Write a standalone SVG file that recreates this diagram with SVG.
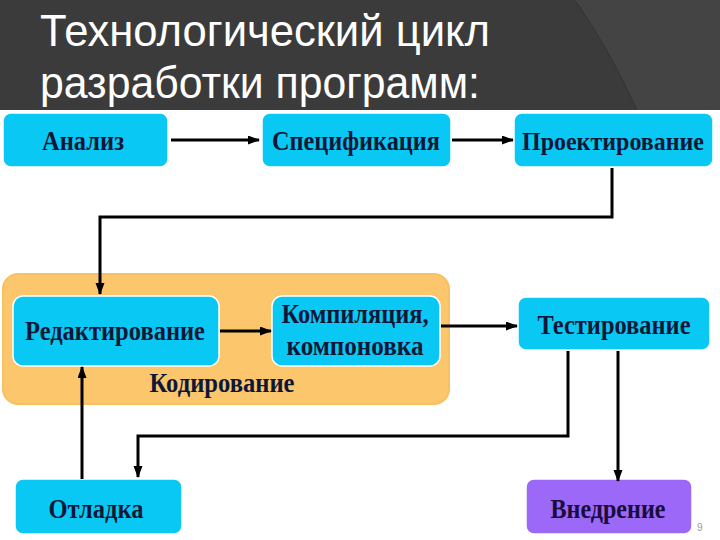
<svg xmlns="http://www.w3.org/2000/svg" width="720" height="540" viewBox="0 0 720 540">
  <style>
    .title { font-family: "Liberation Sans", Arial, sans-serif; font-size: 44px; fill: #ffffff; }
    .box { fill: #0ac8f4; stroke: #ffffff; stroke-width: 1.5; }
    .lbl { font-family: "Liberation Serif", "Times New Roman", serif; font-weight: bold; font-size: 27px; fill: #0d1838; text-anchor: middle; }
    .conn { fill: none; stroke: #000000; stroke-width: 3; }
  </style>
  <defs>
    <marker id="arr" markerUnits="userSpaceOnUse" markerWidth="12" markerHeight="10" refX="11" refY="4.5" orient="auto">
      <path d="M0,0 L12,4.5 L0,9 z" fill="#000000"/>
    </marker>
  </defs>
  <rect x="0" y="0" width="720" height="540" fill="#ffffff"/>
  <g id="header">
    <rect x="0" y="0" width="720" height="110" fill="#3b3b3b"/>
    <path d="M575,0 Q610,50 637,110 L720,110 L720,0 z" fill="#444444"/>
    <path d="M575,0 Q610,50 637,110" fill="none" stroke="#333333" stroke-width="1"/>
    <text class="title" x="40" y="46" textLength="450" lengthAdjust="spacingAndGlyphs">Технологический цикл</text>
    <text class="title" x="40" y="98" textLength="440" lengthAdjust="spacingAndGlyphs">разработки программ:</text>
  </g>
  <rect x="0" y="110" width="720" height="3" fill="#ffffff"/>

  <g id="coding">
    <rect x="3" y="274" width="446" height="130" rx="15" fill="#fcc66c" stroke="#f8c060" stroke-width="2"/>
    <text class="lbl" x="222" y="392" textLength="145" lengthAdjust="spacingAndGlyphs">Кодирование</text>
  </g>

  <g id="analysis">
    <rect class="box" x="3" y="113" width="165" height="54" rx="8"/>
    <text class="lbl" x="83" y="150" textLength="82" lengthAdjust="spacingAndGlyphs">Анализ</text>
  </g>
  <g id="specification">
    <rect class="box" x="262" y="113" width="189" height="54" rx="8"/>
    <text class="lbl" x="356" y="150" textLength="168" lengthAdjust="spacingAndGlyphs">Спецификация</text>
  </g>
  <g id="design">
    <rect class="box" x="514" y="113" width="199" height="54" rx="8"/>
    <text class="lbl" x="613" y="150" style="font-size:25px" textLength="182" lengthAdjust="spacingAndGlyphs">Проектирование</text>
  </g>
  <g id="editing">
    <rect class="box" x="13" y="296" width="206" height="70" rx="10"/>
    <text class="lbl" x="115" y="340" textLength="180" lengthAdjust="spacingAndGlyphs">Редактирование</text>
  </g>
  <g id="compile">
    <rect class="box" x="272" y="296" width="168" height="70" rx="10"/>
    <text class="lbl" x="355" y="323" textLength="147" lengthAdjust="spacingAndGlyphs">Компиляция,</text>
    <text class="lbl" x="355" y="355" textLength="137" lengthAdjust="spacingAndGlyphs">компоновка</text>
  </g>
  <g id="testing">
    <rect class="box" x="518" y="297" width="192" height="53" rx="8"/>
    <text class="lbl" x="614" y="334" textLength="153" lengthAdjust="spacingAndGlyphs">Тестирование</text>
  </g>
  <g id="debug">
    <rect class="box" x="15" y="479" width="167" height="55" rx="8"/>
    <text class="lbl" x="96" y="518" textLength="95" lengthAdjust="spacingAndGlyphs">Отладка</text>
  </g>
  <g id="deploy">
    <rect x="526" y="479" width="166" height="55" rx="8" fill="#9b68f8" stroke="#ffffff" stroke-width="1.5"/>
    <text class="lbl" x="608" y="518" style="fill:#1a0c3c" textLength="115" lengthAdjust="spacingAndGlyphs">Внедрение</text>
  </g>

  <g id="connectors">
    <path class="conn" d="M171,140 H259" marker-end="url(#arr)"/>
    <path class="conn" d="M452,140 H513" marker-end="url(#arr)"/>
    <path class="conn" d="M612,168 V217 H100 V294" marker-end="url(#arr)"/>
    <path class="conn" d="M220,331 H271" marker-end="url(#arr)"/>
    <path class="conn" d="M441,326 H517" marker-end="url(#arr)"/>
    <path class="conn" d="M568,351 V436 H138 V477" marker-end="url(#arr)"/>
    <path class="conn" d="M618,351 V481" marker-end="url(#arr)"/>
    <path class="conn" d="M82,479 V367" marker-end="url(#arr)"/>
  </g>

  <text x="697" y="531" font-family="Liberation Sans, Arial, sans-serif" font-size="10" fill="#999999">9</text>
</svg>
